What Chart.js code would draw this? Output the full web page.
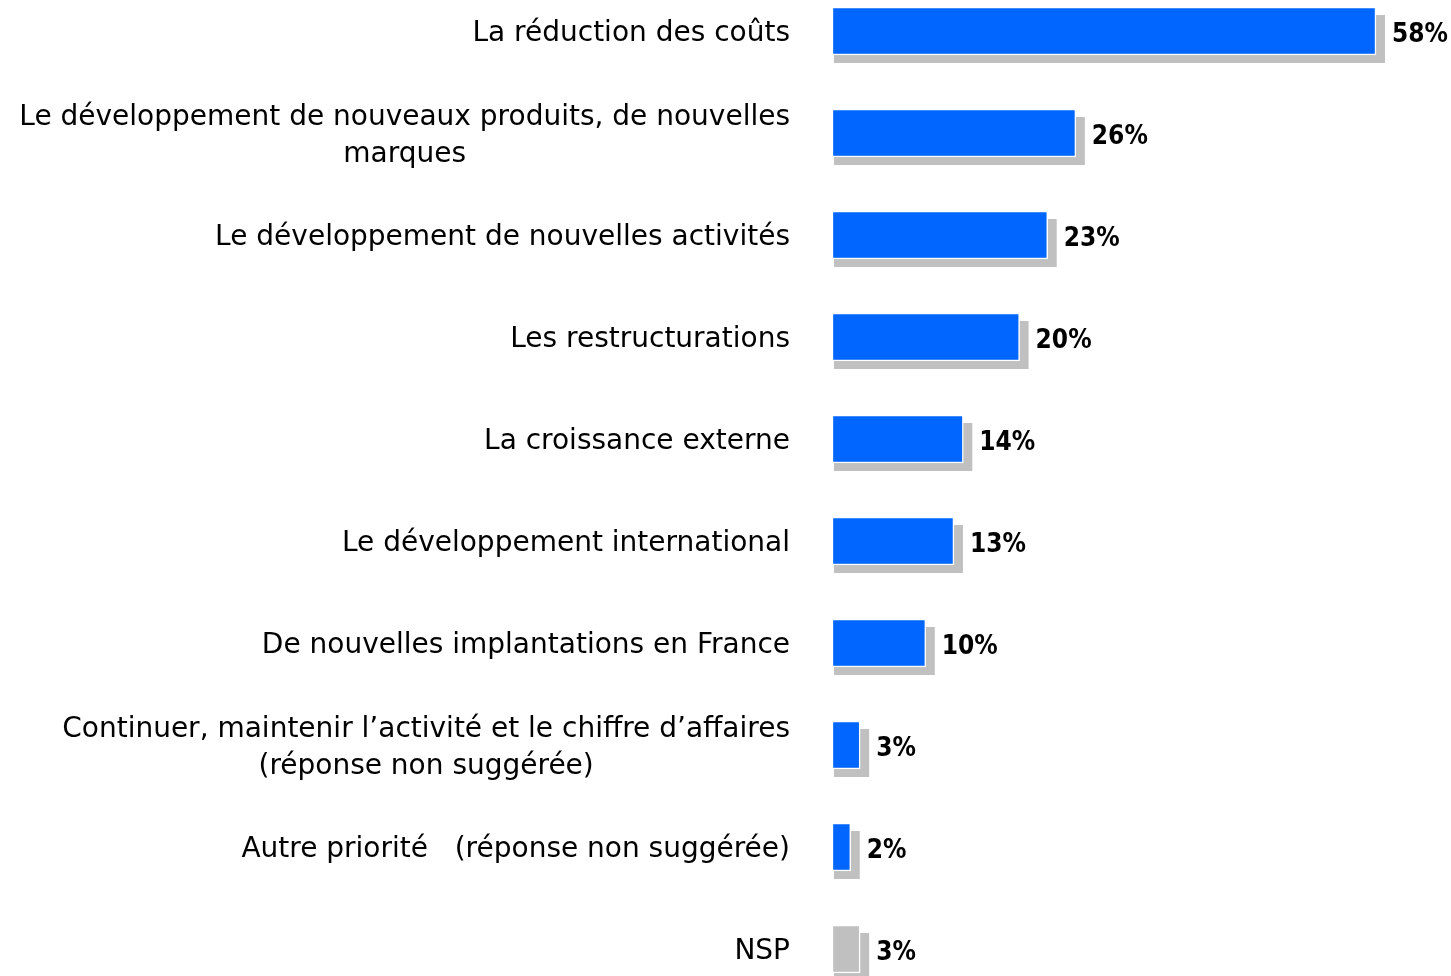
<!DOCTYPE html>
<html lang="fr">
<head>
<meta charset="UTF-8">
<title>Priorités</title>
<script src="https://cdn.jsdelivr.net/npm/chart.js@4.4.0/dist/chart.umd.min.js"></script>
<style>
    html, body {
        margin: 0;
        padding: 0;
        background: #fff;
        overflow: hidden;
    }
    .wrap {
        position: absolute;
        left: 0;
        top: -20px;
        width: 1451px;
        height: 1020px;
    }
</style>
</head>
<body>
<div class="wrap">
    <canvas id="bar-chart"></canvas>
</div>
<script>
    const categories = [
        'La réduction des coûts',
        ['Le développement de nouveaux produits, de nouvelles', 'marques'],
        'Le développement de nouvelles activités',
        'Les restructurations',
        'La croissance externe',
        'Le développement international',
        'De nouvelles implantations en France',
        ['Continuer, maintenir l\u2019activité et le chiffre d\u2019affaires', '(réponse non suggérée)'],
        'Autre priorité   (réponse non suggérée)',
        'NSP'
    ];
    const values = [58, 26, 23, 20, 14, 13, 10, 3, 2, 3];
    const xMin = 0;
    const xMax = 66;

    const BLUE = '#0066ff';
    const GREY = '#c0c0c0';
    const labelFont = '28px "DejaVu Sans", "Noto Sans", sans-serif';
    const valueFont = 'bold 26px "DejaVu Sans Condensed", "DejaVu Sans", sans-serif';

    // ombre grise derrière chaque barre
    const shadowPlugin = {
        id: 'shadow',
        beforeDatasetsDraw(chart) {
            const ctx = chart.ctx;
            const meta = chart.getDatasetMeta(0);
            ctx.save();
            ctx.fillStyle = GREY;
            meta.data.forEach(bar => {
                const top = bar.y - bar.height / 2;
                ctx.fillRect(bar.base + 2, top + 8, bar.x - bar.base + 7, bar.height);
            });
            ctx.restore();
        }
    };

    // libellés de gauche + valeurs à droite
    const textPlugin = {
        id: 'texts',
        afterDatasetsDraw(chart) {
            const ctx = chart.ctx;
            const meta = chart.getDatasetMeta(0);
            const yScale = chart.scales.y;
            const rightEdge = chart.chartArea.left - 42;
            ctx.save();
            ctx.fillStyle = '#000';
            ctx.textBaseline = 'middle';

            ctx.font = labelFont;
            categories.forEach((lab, i) => {
                const lines = Array.isArray(lab) ? lab : [lab];
                const cy = yScale.getPixelForTick(i) + 3;
                const lh = 37;
                const widest = Math.max(...lines.map(l => ctx.measureText(l).width));
                const cx = rightEdge - widest / 2;
                ctx.textAlign = 'center';
                lines.forEach((l, k) => {
                    ctx.fillText(l, cx, cy + (k - (lines.length - 1) / 2) * lh);
                });
            });

            ctx.font = valueFont;
            ctx.textAlign = 'left';
            meta.data.forEach((bar, i) => {
                ctx.fillText(values[i] + '%', bar.x + 16, bar.y + 4);
            });
            ctx.restore();
        }
    };

    new Chart(document.getElementById('bar-chart'), {
        type: 'bar',
        data: {
            labels: categories,
            datasets: [{
                data: values,
                backgroundColor: ctx => categories[ctx.dataIndex] === 'NSP' ? GREY : BLUE,
                borderColor: '#ffffff',
                borderWidth: 1.5,
                borderSkipped: false,
                barThickness: 48
            }]
        },
        options: {
            indexAxis: 'y',
            responsive: true,
            maintainAspectRatio: false,
            animation: false,
            layout: { padding: 0 },
            plugins: {
                legend: { display: false },
                tooltip: { enabled: false }
            },
            scales: {
                x: {
                    display: false,
                    min: xMin,
                    max: xMax
                },
                y: {
                    grid: { display: false },
                    border: { display: false },
                    ticks: { display: false },
                    afterFit: s => { s.width = 832; }
                }
            }
        },
        plugins: [shadowPlugin, textPlugin]
    });
</script>
</body>
</html>
